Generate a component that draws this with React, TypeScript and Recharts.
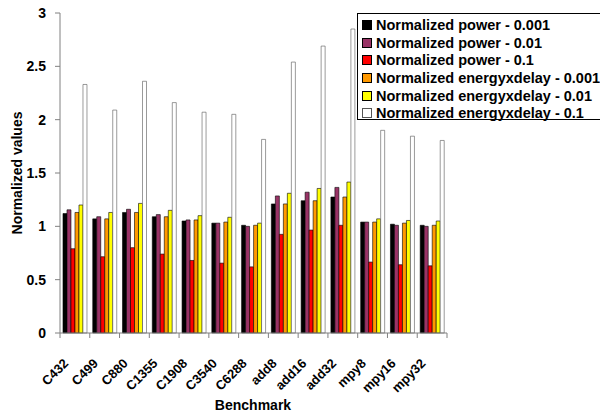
import React from 'react';
import { BarChart, Bar, XAxis, YAxis } from 'recharts';

const categories = ['C432', 'C499', 'C880', 'C1355', 'C1908', 'C3540', 'C6288', 'add8', 'add16', 'add32', 'mpy8', 'mpy16', 'mpy32'];
const power001 = [1.12, 1.07, 1.13, 1.09, 1.05, 1.03, 1.01, 1.21, 1.24, 1.275, 1.04, 1.02, 1.01];
const power01 = [1.155, 1.09, 1.16, 1.11, 1.06, 1.03, 1.0, 1.285, 1.32, 1.365, 1.04, 1.01, 1.0];
const power1 = [0.79, 0.715, 0.8, 0.74, 0.68, 0.655, 0.62, 0.925, 0.965, 1.01, 0.665, 0.64, 0.63];
const exd001 = [1.13, 1.07, 1.13, 1.09, 1.06, 1.04, 1.01, 1.21, 1.24, 1.275, 1.04, 1.03, 1.01];
const exd01 = [1.2, 1.13, 1.215, 1.15, 1.1, 1.085, 1.03, 1.31, 1.355, 1.415, 1.07, 1.055, 1.05];
const exd1 = [2.33, 2.09, 2.36, 2.16, 2.07, 2.05, 1.815, 2.54, 2.69, 2.85, 1.9, 1.845, 1.805];
const yTicks = [0, 0.5, 1, 1.5, 2, 2.5, 3];

const series = [
  { key: 'p001', name: 'Normalized power - 0.001', values: power001, color: '#000000', stroke: '#000000' },
  { key: 'p01', name: 'Normalized power - 0.01', values: power01, color: '#993366', stroke: '#000000' },
  { key: 'p1', name: 'Normalized power - 0.1', values: power1, color: '#FF0000', stroke: '#000000' },
  { key: 'e001', name: 'Normalized energyxdelay - 0.001', values: exd001, color: '#FF9900', stroke: '#000000' },
  { key: 'e01', name: 'Normalized energyxdelay - 0.01', values: exd01, color: '#FFFF00', stroke: '#000000' },
  { key: 'e1', name: 'Normalized energyxdelay - 0.1', values: exd1, color: '#FFFFFF', stroke: '#555555' },
];

const data = categories.map((c, i) => {
  const row: any = { name: c };
  series.forEach((s) => { row[s.key] = s.values[i]; });
  return row;
});

const FONT = '"Liberation Sans", Arial, sans-serif';
const PLOT_LEFT = 60;
const PLOT_RIGHT = 447;
const PLOT_BOTTOM = 333;
const BAND = (PLOT_RIGHT - PLOT_LEFT) / categories.length;

const XTick = (props: any) => {
  const { x, y, payload, index } = props;
  return (
    <g>
      <line x1={x - BAND / 2} x2={x - BAND / 2} y1={PLOT_BOTTOM} y2={PLOT_BOTTOM + 5} stroke="#808080" />
      {index === categories.length - 1 && (
        <line x1={x + BAND / 2} x2={x + BAND / 2} y1={PLOT_BOTTOM} y2={PLOT_BOTTOM + 5} stroke="#808080" />
      )}
      <g transform={`translate(${x - 9},${y + 20}) rotate(-45)`}>
        <text x={0} y={0} textAnchor="end" dy="0.35em" fontFamily={FONT} fontWeight="bold" fontSize={13} fill="#000">
          {payload.value}
        </text>
      </g>
    </g>
  );
};

export default function App() {
  return (
    <div style={{ position: 'absolute', left: 0, top: 0, width: 600, height: 415, background: '#fff', fontFamily: FONT, overflow: 'hidden' }}>
      <BarChart
        width={600}
        height={415}
        data={data}
        margin={{ top: 13, right: 600 - PLOT_RIGHT, bottom: 0, left: 0 }}
        barCategoryGap="10%"
        barGap={0}
      >
        <XAxis
          dataKey="name"
          height={415 - PLOT_BOTTOM}
          interval={0}
          tick={<XTick />}
          tickLine={false}
          axisLine={{ stroke: '#808080' }}
          label={{ content: () => (
            <text x={253} y={405} textAnchor="middle" dominantBaseline="central" fontFamily={FONT} fontWeight="bold" fontSize={14} fill="#000">Benchmark</text>
          ) }}
        />
        <XAxis xAxisId="top" orientation="top" dataKey="name" height={0} tick={false} tickLine={false} axisLine={{ stroke: '#b0b0b0' }} />
        <YAxis
          width={PLOT_LEFT}
          domain={[0, 3]}
          ticks={yTicks}
          interval={0}
          tickSize={5}
          tickMargin={9}
          tickLine={{ stroke: '#808080' }}
          axisLine={{ stroke: '#808080' }}
          tick={{ fontFamily: FONT, fontWeight: 'bold', fontSize: 14, fill: '#000' }}
          label={{ content: () => (
            <text transform="translate(17,173) rotate(-90)" textAnchor="middle" dominantBaseline="central" fontFamily={FONT} fontWeight="bold" fontSize={14} fill="#000">Normalized values</text>
          ) }}
        />
        <YAxis yAxisId="right" orientation="right" width={0} domain={[0, 3]} tick={false} tickLine={false} axisLine={{ stroke: '#b0b0b0' }} />
        {series.map((s) => (
          <Bar key={s.key} dataKey={s.key} name={s.name} fill={s.color} stroke={s.stroke} strokeWidth={0.6} isAnimationActive={false} />
        ))}
      </BarChart>
      <div
        style={{
          position: 'absolute', left: 357, top: 13, width: 243, height: 107, boxSizing: 'border-box',
          border: '1px solid #000', borderRight: 'none', background: '#fff', paddingTop: 2,
        }}
      >
        {series.map((s) => (
          <div key={s.key} style={{ display: 'flex', alignItems: 'center', height: 17.7, paddingLeft: 4 }}>
            <span style={{ display: 'inline-block', width: 8, height: 8, background: s.color, border: `1px solid ${s.key === 'e1' ? '#555' : '#000'}`, marginRight: 4, flexShrink: 0 }} />
            <span style={{ fontFamily: FONT, fontWeight: 'bold', fontSize: 14.5, color: '#000', whiteSpace: 'nowrap' }}>{s.name}</span>
          </div>
        ))}
      </div>
    </div>
  );
}
